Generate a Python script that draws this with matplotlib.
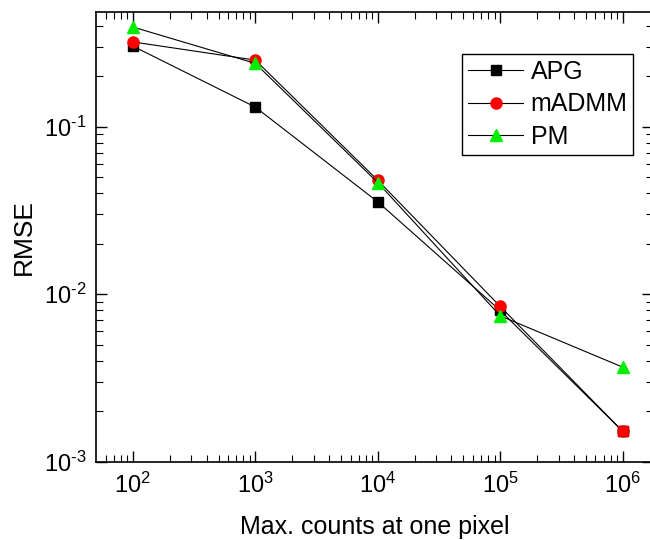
import matplotlib
matplotlib.use("Agg")
import matplotlib.pyplot as plt
import matplotlib.ticker as ticker
import numpy as np

plt.rcParams['font.family'] = ['Liberation Sans', 'DejaVu Sans']
plt.rcParams['mathtext.fontset'] = 'custom'
plt.rcParams['mathtext.rm'] = 'Liberation Sans'
plt.rcParams['mathtext.default'] = 'regular'

# data
counts = [1e2, 1e3, 1e4, 1e5, 1e6]
apg = [0.303, 0.131, 0.0356, 0.0080, 0.00152]
madmm = [0.321, 0.250, 0.0479, 0.00845, 0.00152]
pm = [0.394, 0.239, 0.0464, 0.00743, 0.00367]


def pow_label(v, pos):
    e = int(round(np.log10(v)))
    if e < 0:
        return r'$10^{\text{-}%d}$' % (-e)
    return r'$10^{%d}$' % e


fig = plt.figure(figsize=(6.5, 5.4), dpi=100)
ax = fig.add_axes([0.148, 0.145, 0.857, 0.833])

ax.plot(counts, apg, color='black', lw=0.8, marker='s', ms=7,
        mfc='black', mec='black', label='APG')
ax.plot(counts, madmm, color='black', lw=0.8, marker='o', ms=8,
        mfc='red', mec='red', label='mADMM')
ax.plot(counts, pm, color='black', lw=0.8, marker='^', ms=9,
        mfc='#00ee00', mec='#00ee00', label='PM')
# last APG point shows as a red square in the reference
ax.plot(counts[-1], apg[-1], ls='none', marker='s', ms=7, mfc='red', mec='#dd0000')

ax.set_xscale('log')
ax.set_yscale('log')
ax.set_xlim(10**1.7, 10**6.25)
ax.set_ylim(1e-3, 10**-0.314)

for axis in (ax.xaxis, ax.yaxis):
    axis.set_major_locator(ticker.LogLocator(base=10, numticks=10))
    axis.set_minor_locator(ticker.LogLocator(base=10, subs=range(2, 10), numticks=20))
    axis.set_major_formatter(ticker.FuncFormatter(pow_label))
    axis.set_minor_formatter(ticker.NullFormatter())

ax.tick_params(which='both', direction='in', top=True, right=True, labelsize=17)
ax.tick_params(which='major', length=8, width=1)
ax.tick_params(which='minor', length=5, width=0.8)
ax.tick_params(axis='x', pad=8)
ax.tick_params(axis='y', pad=7)
for s in ax.spines.values():
    s.set_linewidth(1.2)

ax.set_xlabel('Max. counts at one pixel', fontsize=18, labelpad=12)
ax.set_ylabel('RMSE', fontsize=19, labelpad=6)

leg = ax.legend(loc='upper right', bbox_to_anchor=(0.964, 0.906), borderaxespad=0,
                fontsize=18, fancybox=False, edgecolor='black', framealpha=1,
                handlelength=2.2, handletextpad=0.3, labelspacing=0.34,
                borderpad=0.23)
leg.get_frame().set_linewidth(1.0)

fig.savefig('out.png', dpi=100)
